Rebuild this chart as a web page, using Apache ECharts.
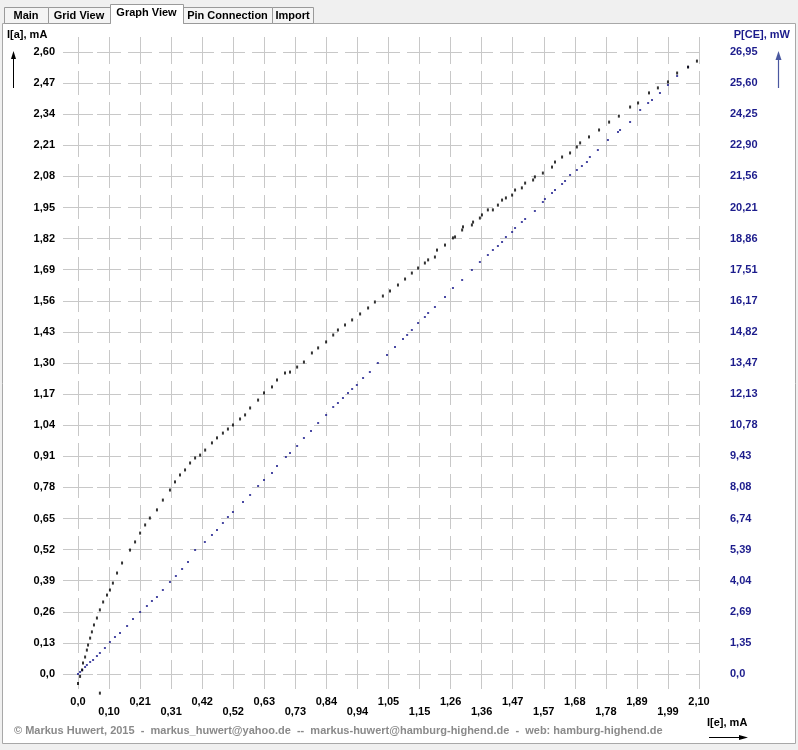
<!DOCTYPE html>
<html>
<head>
<meta charset="utf-8">
<script src="https://cdn.jsdelivr.net/npm/echarts@6/dist/echarts.min.js"></script>
<style>
html,body{margin:0;padding:0;background:#f0f0f0;}
#chart{width:798px;height:750px;}
</style>
</head>
<body>
<div id="chart"></div>
<script>
// ---- tick labels ----
var xLabels = ['0,0','0,10','0,21','0,31','0,42','0,52','0,63','0,73','0,84','0,94','1,05','1,15','1,26','1,36','1,47','1,57','1,68','1,78','1,89','1,99','2,10'];
var yLeftLabels = ['0,0','0,13','0,26','0,39','0,52','0,65','0,78','0,91','1,04','1,17','1,30','1,43','1,56','1,69','1,82','1,95','2,08','2,21','2,34','2,47','2,60'];
var yRightLabels = ['0,0','1,35','2,69','4,04','5,39','6,74','8,08','9,43','10,78','12,13','13,47','14,82','16,17','17,51','18,86','20,21','21,56','22,90','24,25','25,60','26,95'];

// ---- series: I[a] (mA) vs I[e] (mA) ----
var ieA = [0.000,0.007,0.014,0.017,0.024,0.030,0.034,0.041,0.047,0.054,0.064,0.074,0.085,0.098,0.108,0.118,0.132,0.149,0.176,0.193,0.210,0.227,0.243,0.267,0.287,0.311,0.328,0.345,0.362,0.379,0.396,0.413,0.430,0.453,0.470,0.490,0.507,0.524,0.548,0.565,0.582,0.609,0.629,0.656,0.673,0.700,0.717,0.741,0.764,0.791,0.812,0.839,0.863,0.879,0.903,0.927,0.954,0.981,1.004,1.031,1.055,1.082,1.106,1.129,1.150,1.173,1.184,1.207,1.214,1.241,1.268,1.275,1.299,1.302,1.332,1.336,1.359,1.366,1.386,1.403,1.420,1.434,1.447,1.468,1.478,1.501,1.512,1.539,1.545,1.572,1.603,1.613,1.637,1.664,1.687,1.698,1.728,1.762,1.796,1.829,1.867,1.894,1.931,1.961,1.995,2.026,2.063,2.093,0.074];
var iaA = [-0.04,-0.01,0.017,0.046,0.071,0.100,0.121,0.150,0.176,0.205,0.234,0.268,0.301,0.330,0.351,0.380,0.422,0.464,0.518,0.552,0.589,0.623,0.652,0.686,0.727,0.769,0.803,0.832,0.853,0.882,0.903,0.915,0.936,0.966,0.987,1.007,1.024,1.041,1.066,1.083,1.112,1.145,1.175,1.200,1.229,1.258,1.262,1.283,1.304,1.342,1.363,1.388,1.417,1.438,1.459,1.480,1.505,1.530,1.555,1.580,1.601,1.626,1.651,1.676,1.697,1.718,1.731,1.743,1.772,1.793,1.823,1.827,1.856,1.869,1.877,1.889,1.906,1.919,1.940,1.940,1.960,1.981,1.990,2.002,2.023,2.032,2.052,2.065,2.078,2.094,2.119,2.140,2.161,2.178,2.203,2.220,2.245,2.274,2.307,2.332,2.370,2.387,2.429,2.450,2.475,2.512,2.537,2.562,-0.08];

// ---- series: P[CE] (mW) vs I[e] (mA) ----
var ieP = [0.000,0.007,0.014,0.024,0.030,0.041,0.051,0.064,0.074,0.091,0.108,0.125,0.142,0.166,0.186,0.210,0.233,0.250,0.267,0.287,0.311,0.331,0.352,0.372,0.396,0.429,0.453,0.470,0.490,0.507,0.524,0.558,0.582,0.609,0.629,0.656,0.673,0.703,0.717,0.741,0.764,0.788,0.812,0.839,0.863,0.879,0.896,0.913,0.927,0.943,0.964,0.987,1.014,1.045,1.072,1.099,1.113,1.129,1.150,1.173,1.184,1.207,1.241,1.268,1.299,1.332,1.359,1.386,1.403,1.420,1.434,1.447,1.468,1.478,1.501,1.512,1.545,1.572,1.579,1.603,1.613,1.637,1.647,1.664,1.687,1.704,1.721,1.731,1.758,1.792,1.826,1.833,1.867,1.901,1.928,1.941,1.968,1.995,2.026,2.063];
var pce = [0.000,0.087,0.173,0.303,0.390,0.520,0.607,0.780,0.910,1.127,1.387,1.603,1.776,2.080,2.383,2.686,2.946,3.163,3.336,3.640,3.986,4.246,4.549,4.853,5.373,5.719,6.023,6.239,6.543,6.802,7.019,7.452,7.756,8.146,8.406,8.709,9.012,9.402,9.575,9.879,10.225,10.529,10.875,11.222,11.569,11.742,11.959,12.175,12.348,12.522,12.825,13.085,13.475,13.822,14.168,14.515,14.688,14.905,15.208,15.468,15.641,15.901,16.335,16.725,17.071,17.505,17.851,18.154,18.371,18.544,18.718,18.934,19.151,19.324,19.584,19.714,20.061,20.451,20.581,20.841,20.971,21.231,21.361,21.621,21.837,22.011,22.184,22.401,22.704,23.137,23.484,23.570,23.917,24.437,24.740,24.870,25.174,25.520,25.910,26.300];

var dataA = ieA.map(function(x,i){return [x, iaA[i]];});
var dataP = ieP.map(function(x,i){return [x, pce[i]];});

var FONT = 'Liberation Sans';
var GRIDC = '#c8c8c8';
var BLUE = '#1c1c8c';
var xInt = 0.105, yInt = 0.13, rInt = 1.3475;

function idx(v, step){ return Math.round(v/step); }

var chart = echarts.init(document.getElementById('chart'), null, {renderer:'canvas'});

function tab(x, w, label, sel){
  var top = sel ? 4 : 7;
  return [
    {type:'rect', shape:{x:x+0.5, y:top+0.5, width:w, height:23-top}, style:{fill: sel ? '#ffffff' : '#f4f4f4', stroke:'#9a9a9a', lineWidth:1}, z:10},
    {type:'text', x:x + w/2, y: sel ? 13 : 15.5, style:{text:label, fill:'#000', font:'bold 11px "'+FONT+'"', textAlign:'center', textVerticalAlign:'middle'}, z:11}
  ];
}

var graphics = [
  {type:'rect', shape:{x:0,y:0,width:798,height:750}, style:{fill:'#f0f0f0'}, z:-10, silent:true},
  {type:'rect', shape:{x:2.5,y:23.5,width:793,height:720}, style:{fill:'#ffffff', stroke:'#a8a8a8', lineWidth:1}, z:-9, silent:true}
];
graphics = graphics
  .concat(tab(4, 44, 'Main', false))
  .concat(tab(48, 62, 'Grid View', false))
  .concat(tab(183, 89, 'Pin Connection', false))
  .concat(tab(272, 41, 'Import', false))
  .concat(tab(110, 73, 'Graph View', true))
  .concat([
    {type:'rect', shape:{x:111, y:22, width:72, height:3}, style:{fill:'#ffffff'}, z:12},
    // left axis title + arrow
    {type:'text', x:7, y:35, style:{text:'I[a], mA', fill:'#000', font:'bold 11px "'+FONT+'"', textVerticalAlign:'middle'}, z:5},
    {type:'line', shape:{x1:13.5,y1:88,x2:13.5,y2:57}, style:{stroke:'#000', lineWidth:1}, z:5},
    {type:'polygon', shape:{points:[[11,59],[13.5,51],[16,59]]}, style:{fill:'#000'}, z:5},
    // right axis title + arrow
    {type:'text', x:790, y:35, style:{text:'P[CE], mW', fill:BLUE, font:'bold 11px "'+FONT+'"', textAlign:'right', textVerticalAlign:'middle'}, z:5},
    {type:'line', shape:{x1:778.5,y1:88,x2:778.5,y2:57}, style:{stroke:'#4a58a0', lineWidth:1.2}, z:5},
    {type:'polygon', shape:{points:[[775.5,60],[778.5,51],[781.5,60]]}, style:{fill:'#4a58a0'}, z:5},
    // bottom axis title + arrow
    {type:'text', x:707, y:723, style:{text:'I[e], mA', fill:'#000', font:'bold 11px "'+FONT+'"', textVerticalAlign:'middle'}, z:5},
    {type:'line', shape:{x1:709,y1:737.5,x2:741,y2:737.5}, style:{stroke:'#000', lineWidth:1}, z:5},
    {type:'polygon', shape:{points:[[739,735],[748,737.5],[739,740]]}, style:{fill:'#000'}, z:5},
    // footer
    {type:'text', x:14, y:731, style:{text:'\u00A9 Markus Huwert, 2015  -  markus_huwert@yahoo.de  --  markus-huwert@hamburg-highend.de  -  web: hamburg-highend.de', fill:'#8a8a8a', font:'bold 11px "'+FONT+'"', textVerticalAlign:'middle'}, z:5}
  ]);

var tickStyle = {show:true, length:15, lineStyle:{color:GRIDC, width:1}};
var splitStyle = {show:true, lineStyle:{color:GRIDC, width:1, type:[24,7], dashOffset:12}};
var lblFont = {fontFamily:FONT, fontWeight:'bold', fontSize:11};

var option = {
  animation:false,
  backgroundColor:'transparent',
  grid:{left:78, top:52, width:621, height:622, containLabel:false},
  xAxis:[
    {type:'value', position:'bottom', min:0, max:2.10, interval:xInt,
     axisLine:{show:false}, axisTick:tickStyle, splitLine:splitStyle,
     axisLabel:Object.assign({margin:22, color:'#000', verticalAlign:'top', showMinLabel:true, showMaxLabel:true,
       formatter:function(v){var i=idx(v,xInt); return i%2===0 ? xLabels[i] : '';}}, lblFont)},
    {type:'value', position:'bottom', min:0, max:2.10, interval:xInt,
     axisLine:{show:false}, axisTick:{show:false}, splitLine:{show:false},
     axisLabel:Object.assign({margin:32, color:'#000', verticalAlign:'top',
       formatter:function(v){var i=idx(v,xInt); return i%2===1 ? xLabels[i] : '';}}, lblFont)},
    {type:'value', position:'top', min:0, max:2.10, interval:xInt,
     axisLine:{show:false}, axisTick:tickStyle, splitLine:{show:false}, axisLabel:{show:false}}
  ],
  yAxis:[
    {type:'value', position:'left', min:0, max:2.60, interval:yInt,
     axisLine:{show:false}, axisTick:tickStyle, splitLine:splitStyle,
     axisLabel:Object.assign({margin:23, color:'#000',
       formatter:function(v){return yLeftLabels[idx(v,yInt)];}}, lblFont)},
    {type:'value', position:'right', min:0, max:26.95, interval:rInt,
     axisLine:{show:false}, axisTick:tickStyle, splitLine:{show:false},
     axisLabel:Object.assign({margin:31, color:BLUE,
       formatter:function(v){return yRightLabels[idx(v,rInt)];}}, lblFont)}
  ],
  series:[
    {type:'scatter', name:'P[CE]', xAxisIndex:0, yAxisIndex:1, data:dataP, symbol:'rect', symbolSize:[2,2],
     itemStyle:{color:BLUE}, clip:false, silent:true, z:3},
    {type:'scatter', name:'I[a]', xAxisIndex:0, yAxisIndex:0, data:dataA, symbol:'rect', symbolSize:[2,3],
     itemStyle:{color:'#000'}, clip:false, silent:true, z:4}
  ],
  graphic:{elements:graphics}
};
chart.setOption(option);
</script>
</body>
</html>
